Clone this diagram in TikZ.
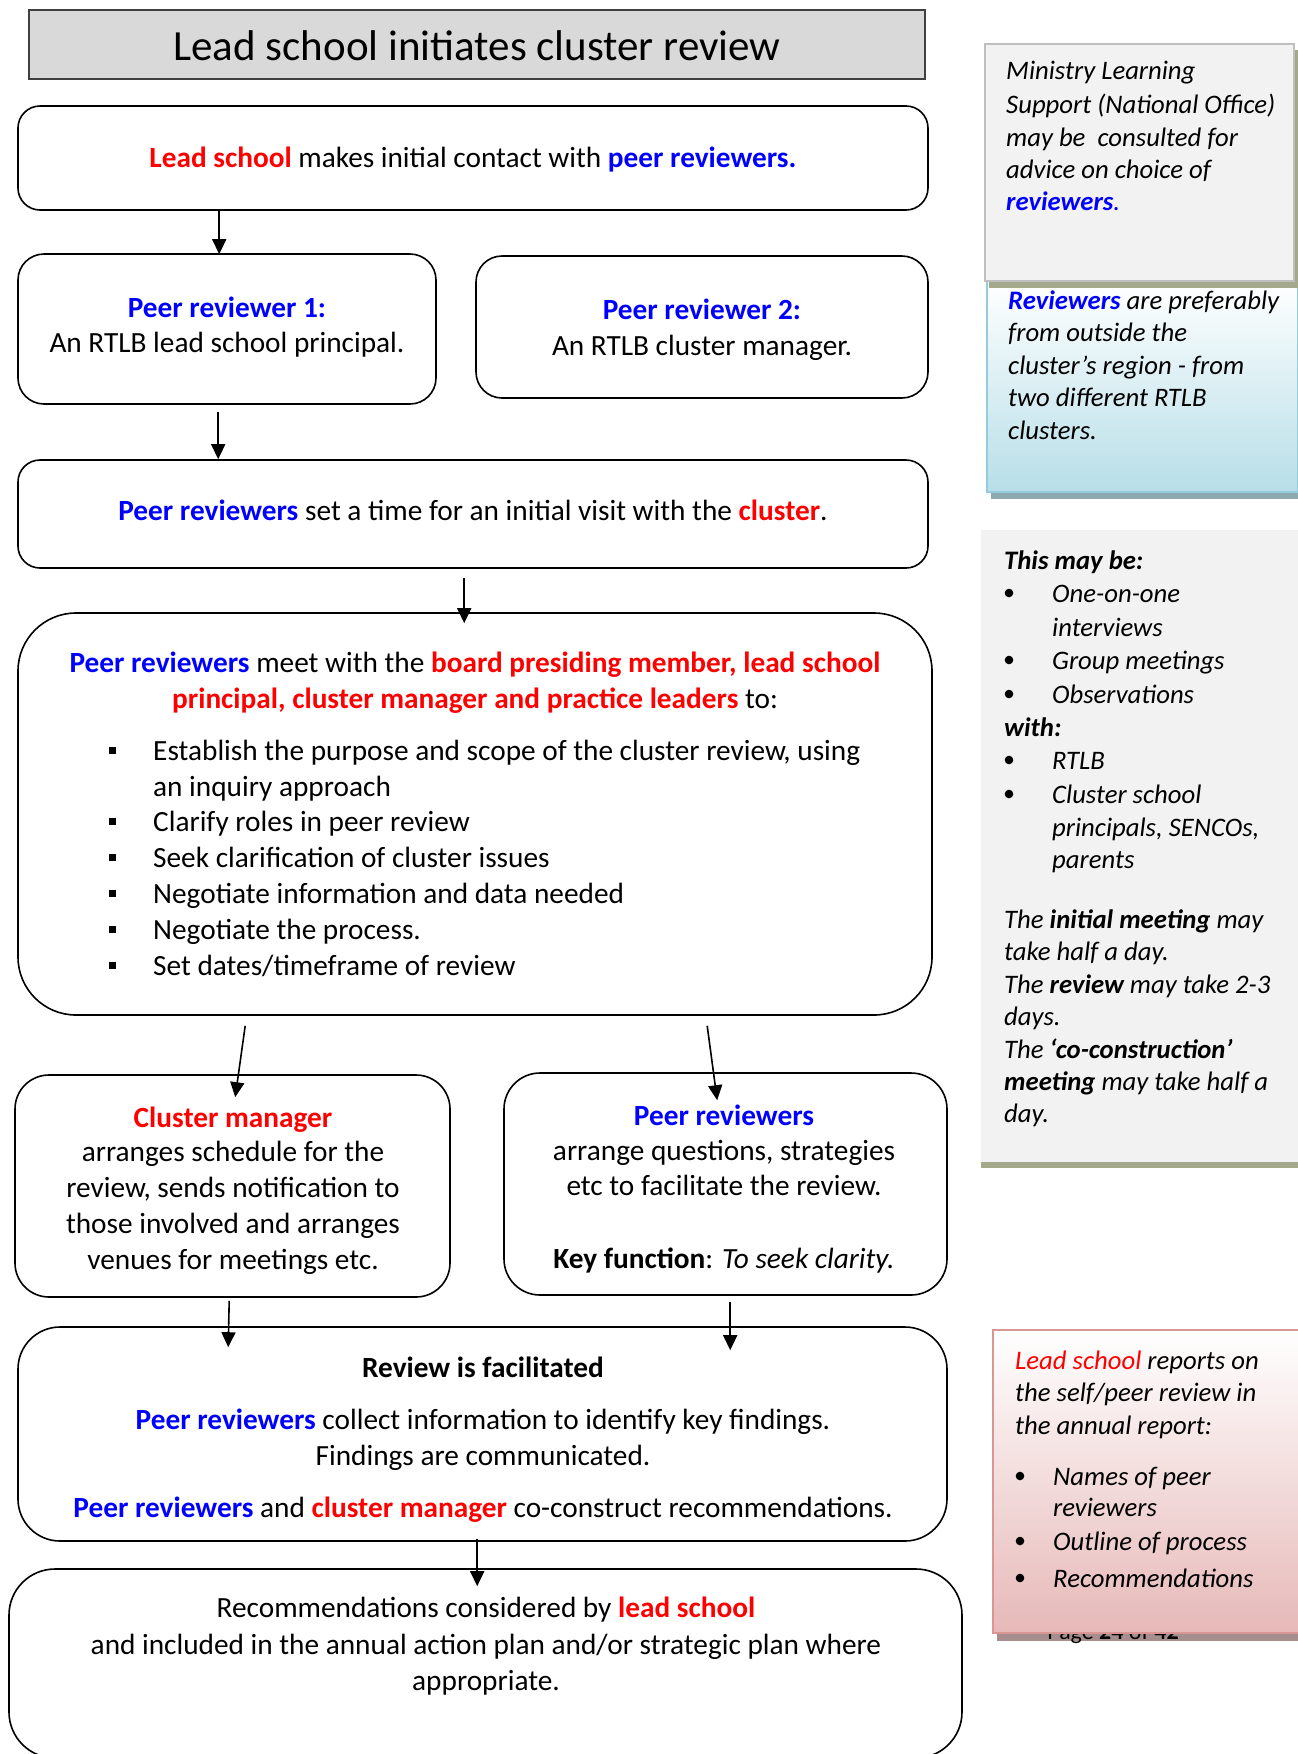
\documentclass[tikz,border=0pt]{standalone}
\usepackage{fontspec}
\setmainfont{Carlito}
\usetikzlibrary{arrows.meta,calc}
\definecolor{rd}{HTML}{FF0000}
\definecolor{bl}{HTML}{0000FF}
\definecolor{titlegray}{HTML}{D9D9D9}
\definecolor{titleedge}{HTML}{404040}
\definecolor{panelgray}{HTML}{F2F2F2}
\definecolor{paneledge}{HTML}{BFBFBF}
\definecolor{olivesh}{HTML}{A4A98C}
\definecolor{bluefill}{HTML}{B7DEE8}
\definecolor{blueedge}{HTML}{93CDDD}
\definecolor{bluesh}{HTML}{8FA9B0}
\definecolor{pinkfill}{HTML}{E6B9B8}
\definecolor{pinkedge}{HTML}{D99694}
\definecolor{pinksh}{HTML}{A58E8D}
\newcommand{\mainsz}{\fontsize{29.3}{35.8}\selectfont}
\newcommand{\sidesz}{\fontsize{26.7}{33}\selectfont\itshape}
\newcommand{\blb}[1]{{\bfseries\color{bl}#1}}
\newcommand{\rdb}[1]{{\bfseries\color{rd}#1}}
\begin{document}
\begin{tikzpicture}[x=1pt,y=-1pt,
  rbox/.style={draw=black, line width=1.6pt, rounded corners=#1, inner sep=0pt, fill=white},
  arr/.style={-{Triangle[length=15pt,width=14pt]}, line width=1.6pt},
  mt/.style={anchor=mid, inner sep=0pt, font=\mainsz, yshift=-8pt},
  mtl/.style={mt, anchor=mid west},
  st/.style={anchor=mid west, inner sep=0pt, font=\sidesz, yshift=-7pt},
  sqb/.style={fill=black}
]
\useasboundingbox (0,0) rectangle (1298,1754);
\fill[white] (0,0) rectangle (1298,1754);

% ---------- right side notes ----------
% blue box
\fill[bluesh] (991,287) rectangle (1304,499);
\node[draw=blueedge, line width=2pt, top color=white, bottom color=bluefill, inner sep=0pt,
      minimum width=311, minimum height=211] (bluebox) at (1142.5,386.5) {};
% gray ministry box
\fill[olivesh] (989,50) rectangle (1300,288);
\node[draw=paneledge, line width=2.5pt, fill=panelgray, inner sep=0pt,
      minimum width=309, minimum height=237] (minbox) at (1139.5,162.5) {};
% gray panel
\fill[olivesh] (981,1161) rectangle (1298,1168);
\node[fill=panelgray, inner sep=0pt, minimum width=317, minimum height=632] (panel) at (1139.5,846) {};
% pink box
\fill[pinksh] (997,1337) rectangle (1304,1641);
\node[anchor=base, inner sep=0pt, font=\fontsize{24}{29}\selectfont] (pg) at (1113,1639) {Page \textbf{24} of \textbf{42}};
\node[draw=pinkedge, line width=2pt, top color=white, bottom color=pinkfill, inner sep=0pt,
      minimum width=309, minimum height=303] (pinkbox) at (1147.5,1481.5) {};

% ministry text
\node[st] (m1) at (1006,70) {Ministry Learning};
\node[st] (m2) at (1006,104) {Support (National Office)};
\node[st] (m3) at (1006,137) {may be\ \ consulted for};
\node[st] (m4) at (1006,169) {advice on choice of};
\node[st] (m5) at (1006,201) {\blb{reviewers}{\color{bl}.}};
% blue box text
\node[st] (n1) at (1008,300) {\blb{Reviewers} are preferably};
\node[st] (n2) at (1008,332) {from outside the};
\node[st] (n3) at (1008,365) {cluster’s region - from};
\node[st] (n4) at (1008,397) {two different RTLB};
\node[st] (n5) at (1008,430) {clusters.};
% gray panel text
\node[st] (g1) at (1004,560) {\textbf{This may be:}};
\node[st] (g2) at (1052,593) {One-on-one};
\node[st] (g3) at (1052,627) {interviews};
\node[st] (g4) at (1052,660) {Group meetings};
\node[st] (g5) at (1052,694) {Observations};
\node[st] (g6) at (1004,727) {\textbf{with:}};
\node[st] (g7) at (1052,760) {RTLB};
\node[st] (g8) at (1052,794) {Cluster school};
\node[st] (g9) at (1052,827) {principals, SENCOs,};
\node[st] (g10) at (1052,859) {parents};
\node[st] (g11) at (1004,919) {The \textbf{initial meeting} may};
\node[st] (g12) at (1004,951) {take half a day.};
\node[st] (g13) at (1004,984) {The \textbf{review} may take 2-3};
\node[st] (g14) at (1004,1016) {days.};
\node[st] (g15) at (1004,1049) {The \textbf{‘co-construction’}};
\node[st] (g16) at (1004,1081) {\textbf{meeting} may take half a};
\node[st] (g17) at (1004,1113) {day.};
\foreach \yy in {593,660,694,760,794} \fill (1009,\yy) circle (4.3);
% pink box text
\node[st] (k1) at (1015,1360) {{\color{rd}Lead school} reports on};
\node[st] (k2) at (1015,1392) {the self/peer review in};
\node[st] (k3) at (1015,1425) {the annual report:};
\node[st] (k4) at (1053,1476) {Names of peer};
\node[st] (k5) at (1053,1507) {reviewers};
\node[st] (k6) at (1053,1541) {Outline of process};
\node[st] (k7) at (1053,1578) {Recommendations};
\foreach \yy in {1476,1541,1578} \fill (1020,\yy) circle (4.3);

% ---------- main flow ----------
\node[draw=titleedge, line width=1.5pt, fill=titlegray, inner sep=0pt,
      minimum width=896, minimum height=69] (title) at (477,44.5) {};
\node[anchor=mid, inner sep=0pt, font=\fontsize{43}{52}\selectfont] (tt) at (477,58) {Lead school initiates cluster review};

\node[rbox=22pt, minimum width=910, minimum height=104] (b1) at (473,158) {};
\node[rbox=26pt, minimum width=418, minimum height=150] (pr1) at (227,329) {};
\node[rbox=26pt, minimum width=452, minimum height=142] (pr2) at (702,327) {};
\node[rbox=22pt, minimum width=910, minimum height=108] (b3) at (473,514) {};
\node[rbox=58pt, minimum width=914, minimum height=402] (b4) at (475,814) {};
\node[rbox=34pt, minimum width=435, minimum height=222] (cm) at (232.5,1186) {};
\node[rbox=36pt, minimum width=443, minimum height=222] (prs) at (725.5,1184) {};
\node[rbox=42pt, minimum width=929, minimum height=214] (rev) at (482.5,1434) {};
\node[rbox=46pt, minimum width=953, minimum height=189] (fin) at (485.5,1663.5) {};

% arrows
\draw[arr] ($(b1.south west)+(202,0)$) -- ($(pr1.north west)+(202,1)$);
\draw[arr] ($(pr1.south west)+(201,7)$) -- ($(b3.north west)+(201,0)$);
\draw[arr] ($(b3.south west)+(447,9)$) -- ($(b4.north west)+(447,11)$);
\draw[arr] ($(b4.south west)+(228,10)$) -- ($(cm.north west)+(221,23)$);
\draw[arr] ($(b4.south west)+(690,10)$) -- ($(prs.north west)+(214,28)$);
\draw[arr] ($(cm.south west)+(215,3)$) -- ($(rev.north west)+(211,21)$);
\draw[arr] ($(prs.south west)+(227,6)$) -- ($(rev.north west)+(713,24)$);
\draw[arr] ($(rev.south west)+(460,-3)$) -- ($(fin.north west)+(469,18)$);

% texts
\node[mt] (t1) at (473,157) {\rdb{Lead school} makes initial contact with \blb{peer reviewers.}};
\node[mt] (p1a) at (227,307) {\blb{Peer reviewer 1:}};
\node[mt] (p1b) at (227,342) {An RTLB lead school principal.};
\node[mt] (p2a) at (702,309) {\blb{Peer reviewer 2:}};
\node[mt] (p2b) at (702,345) {An RTLB cluster manager.};
\node[mt] (t3) at (473,510) {\blb{Peer reviewers} set a time for an initial visit with the \rdb{cluster}.};
\node[mt] (t4a) at (475,662) {\blb{Peer reviewers} meet with the \rdb{board presiding member, lead school}};
\node[mt] (t4b) at (475,698) {\rdb{principal, cluster manager and practice leaders} to:};
\node[mtl] (l1) at (153,750) {Establish the purpose and scope of the cluster review, using};
\node[mtl] (l2) at (153,786) {an inquiry approach};
\node[mtl] (l3) at (153,821) {Clarify roles in peer review};
\node[mtl] (l4) at (153,857) {Seek clarification of cluster issues};
\node[mtl] (l5) at (153,893) {Negotiate information and data needed};
\node[mtl] (l6) at (153,929) {Negotiate the process.};
\node[mtl] (l7) at (153,965) {Set dates/timeframe of review};
\foreach \yy in {750,821,857,893,929,965} \fill[sqb] (108.5,\yy-3.5) rectangle +(7.5,7.5);

\node[mt] (c1) at (233,1117) {\rdb{Cluster manager}};
\node[mt] (c2) at (233,1151) {arranges schedule for the};
\node[mt] (c3) at (233,1187) {review, sends notification to};
\node[mt] (c4) at (233,1223) {those involved and arranges};
\node[mt] (c5) at (233,1259) {venues for meetings etc.};

\node[mt] (r1) at (724,1115) {\blb{Peer reviewers}};
\node[mt] (r2) at (724,1150) {arrange questions, strategies};
\node[mt] (r3) at (724,1185) {etc to facilitate the review.};
\node[mt] (r4) at (724,1258) {\textbf{Key function}: \textit{To seek clarity.}};

\node[mt] (v1) at (483,1367) {\textbf{Review is facilitated}};
\node[mt] (v2) at (483,1419) {\blb{Peer reviewers} collect information to identify key findings.};
\node[mt] (v3) at (483,1455) {Findings are communicated.};
\node[mt] (v4) at (483,1507) {\blb{Peer reviewers} and \rdb{cluster manager} co-construct recommendations.};

\node[mt] (f1) at (486,1607) {Recommendations considered by \rdb{lead school}};
\node[mt] (f2) at (486,1644) {and included in the annual action plan and/or strategic plan where};
\node[mt] (f3) at (486,1680) {appropriate.};
\end{tikzpicture}
\end{document}
